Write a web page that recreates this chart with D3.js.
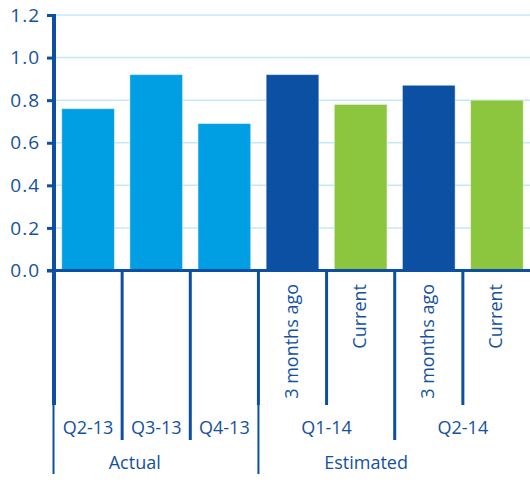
<!DOCTYPE html>
<html>
<head>
<meta charset="utf-8">
<script src="https://cdn.jsdelivr.net/npm/d3@7"></script>
<style>
  body { margin: 0; background: #fff; }
  svg text { font-family: "Open Sans", sans-serif; fill: #14519f; }
</style>
</head>
<body>
<svg id="chart" width="530" height="484"></svg>
<script>
// bar order, left to right
const subLabels = ["", "", "", "3 months ago", "Current", "3 months ago", "Current"]
const quarterLabels = ["Q2-13", "Q3-13", "Q4-13", "Q1-14", "Q1-14", "Q2-14", "Q2-14"]
const groupLabels = ["Actual", "Actual", "Actual", "Estimated", "Estimated", "Estimated", "Estimated"]
const kinds = ["actual", "actual", "actual", "ago", "current", "ago", "current"]
const values = [0.76, 0.92, 0.69, 0.92, 0.78, 0.87, 0.80]
const yTicks = [0, 0.2, 0.4, 0.6, 0.8, 1.0, 1.2]

const colors = { actual: "#009ee2", ago: "#0b50a2", current: "#8cc63e" }
const dark = "#0d4fa0"

const svg = d3.select("#chart")
const idx = d3.range(values.length)

const y = d3.scaleLinear().domain([0, 1.2]).range([270.5, 15])
const x = d3.scaleBand().domain(idx).range([54, 531]).paddingInner(0.227).paddingOuter(0.1135)
const step = x.step()
const edge = i => x.range()[0] + i * step  // category boundary

// gridlines
svg.append("g")
    .selectAll("line")
    .data(yTicks.filter(d => d > 0))
    .join("line")
    .attr("x1", 55).attr("x2", 530)
    .attr("y1", d => y(d)).attr("y2", d => y(d))
    .attr("stroke", "#c4e8f8").attr("stroke-width", 1.5)

// bars
svg.append("g")
    .selectAll("rect")
    .data(idx)
    .join("rect")
    .attr("x", i => x(i))
    .attr("width", x.bandwidth())
    .attr("y", i => y(values[i]))
    .attr("height", i => y(0) - y(values[i]))
    .attr("fill", i => colors[kinds[i]])
    .attr("stroke", "rgba(255,255,255,0.45)")
    .attr("stroke-width", 1)

// y axis
const yAxis = svg.append("g")
    .attr("transform", "translate(54,0)")
    .call(d3.axisLeft(y).tickValues(yTicks).tickFormat(d3.format(".1f")).tickSize(7).tickPadding(7))
yAxis.select(".domain").remove()
yAxis.selectAll("line").attr("stroke", dark).attr("stroke-width", 3)
yAxis.selectAll("text")
    .attr("font-size", 19)
    .attr("letter-spacing", 1)
    .style("fill", "#14519f")

// y axis line, runs down through the first label row
svg.append("line")
    .attr("x1", 54).attr("x2", 54)
    .attr("y1", y(1.2) - 1).attr("y2", 405)
    .attr("stroke", dark).attr("stroke-width", 4)

// category separators
const rowTop = y(0), row1 = 405, row2 = 440, row3 = 474
const seps = []
for (let i = 0; i < values.length; i++) {
    seps.push({ x: edge(i), y1: rowTop, y2: row1, w: 3 })
    const newGroup = i === 0 || groupLabels[i] !== groupLabels[i - 1]
    const newQuarter = i === 0 || quarterLabels[i] !== quarterLabels[i - 1]
    if (newGroup) {
        seps.push({ x: edge(i), y1: row1, y2: row3, w: 2 })
    } else if (newQuarter) {
        seps.push({ x: edge(i), y1: row1, y2: row2, w: 3 })
    }
}
svg.append("g")
    .selectAll("line")
    .data(seps.filter(d => d.x > 56))
    .join("line")
    .attr("x1", d => d.x).attr("x2", d => d.x)
    .attr("y1", d => d.y1).attr("y2", d => d.y2)
    .attr("stroke", dark).attr("stroke-width", d => d.w)
svg.append("line")
    .attr("x1", 53.5).attr("x2", 53.5)
    .attr("y1", row1).attr("y2", row3)
    .attr("stroke", dark).attr("stroke-width", 2)

// x axis line
svg.append("line")
    .attr("x1", 47).attr("x2", 530)
    .attr("y1", y(0)).attr("y2", y(0))
    .attr("stroke", dark).attr("stroke-width", 3)

// rotated sub labels
svg.append("g")
    .selectAll("text")
    .data(idx.filter(i => subLabels[i]))
    .join("text")
    .attr("transform", i => `translate(${x(i) + x.bandwidth() / 2 + 5},284) rotate(-90)`)
    .attr("text-anchor", "end")
    .attr("font-size", 18)
    .text(i => subLabels[i])

// quarter labels, centred over their bars
const quarters = d3.groups(idx, i => quarterLabels[i])
svg.append("g")
    .selectAll("text")
    .data(quarters)
    .join("text")
    .attr("x", d => (edge(d[1][0]) + edge(d[1][d[1].length - 1] + 1)) / 2)
    .attr("y", 434)
    .attr("text-anchor", "middle")
    .attr("font-size", 18)
    .text(d => d[0])

// group labels
const groups = d3.groups(idx, i => groupLabels[i])
svg.append("g")
    .selectAll("text")
    .data(groups)
    .join("text")
    .attr("x", d => {
        const a = edge(d[1][0]), b = edge(d[1][d[1].length - 1] + 1)
        return a + (b - a) * 0.395
    })
    .attr("y", 469)
    .attr("text-anchor", "middle")
    .attr("font-size", 18)
    .text(d => d[0])
</script>
</body>
</html>
